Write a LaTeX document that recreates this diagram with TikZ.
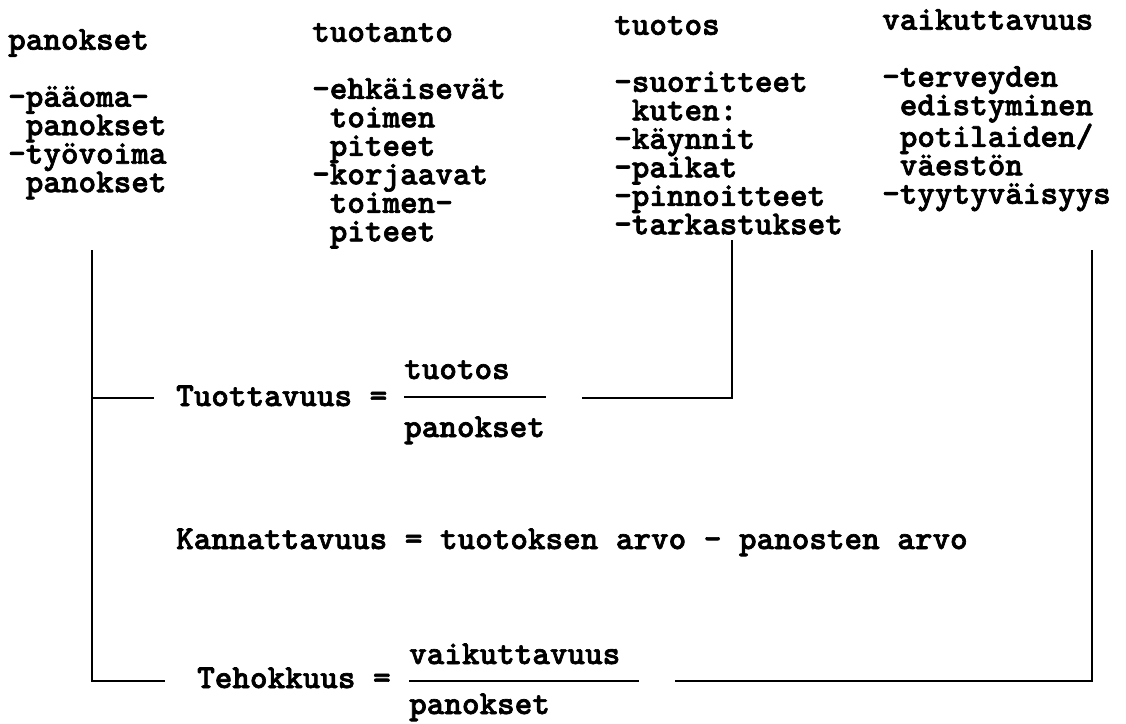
\documentclass[tikz,border=0pt]{standalone}
\usepackage{fontspec}
\usepackage{tikz}
\usetikzlibrary{calc, positioning}
\newfontfamily\typewriter{lmmonolt10-bold.otf}[FakeBold = 2]
\tikzset{
	txt/.style = {font = \typewriter\fontsize{33.5}{28.5}\selectfont, inner sep = 0pt},
	col/.style = {txt, align = left, anchor = north west},
	rule/.style = {line width = 2pt},
}

\begin{document}
\begin{tikzpicture}[x = 1pt, y = -1pt]
		\useasboundingbox (0, 0) rectangle (1126, 723);

		% the four columns
		\node [col] (panokset) at (8, 29) {panokset\\[28.5pt]-pääoma-\\\hphantom{-}panokset\\-työvoima\\\hphantom{-}panokset};
		\node [col] (tuotanto) at (312, 23) {tuotanto\\[28.5pt]-ehkäisevät\\\hphantom{-}toimen\\\hphantom{-}piteet\\-korjaavat\\\hphantom{-}toimen-\\\hphantom{-}piteet};
		\node [col] (tuotos) at (614, 16) {tuotos\\[28.5pt]-suoritteet\\\hphantom{-}kuten:\\-käynnit\\-paikat\\-pinnoitteet\\-tarkastukset};
		\node [col] (vaikuttavuus) at (882, 9) {vaikuttavuus\\[28.5pt]-terveyden\\\hphantom{-}edistyminen\\\hphantom{-}potilaiden/\\\hphantom{-}väestön\\-tyytyväisyys};

		% formulas
		\node [txt, anchor = base west] (tuott) at (176, 406) {Tuottavuus =};
		\node [txt, anchor = base west] (tuottNum) at (404, 379) {tuotos};
		\node [txt, anchor = base west] (tuottDen) at (404, 437) {panokset};
		\node [txt, anchor = base west] (kann) at (176, 549) {Kannattavuus = tuotoksen arvo - panosten arvo};
		\node [txt, anchor = base west] (teho) at (197, 688) {Tehokkuus =};
		\node [txt, anchor = base west] (tehoNum) at (409, 664) {vaikuttavuus};
		\node [txt, anchor = base west] (tehoDen) at (409, 714) {panokset};

		\coordinate (panoFoot) at (92, 250);
		\coordinate (tuotosFoot) at (732, 240);
		\coordinate (vaikFoot) at (1092, 250);
		\coordinate (tuottLeft) at (154, 398);
		\coordinate (tuottRight) at (582, 398);
		\coordinate (tuottBarL) at (404, 397);
		\coordinate (tuottBarR) at (546, 397);
		\coordinate (tehoLeft) at (165, 681);
		\coordinate (tehoRight) at (675, 681);
		\coordinate (tehoBarL) at (409, 681);
		\coordinate (tehoBarR) at (639, 681);

		\draw [rule] (tuottBarL) -- (tuottBarR);
		\draw [rule] (tehoBarL) -- (tehoBarR);
		\draw [rule] (panoFoot) |- (tehoLeft);
		\draw [rule] (panoFoot |- tuottLeft) -- (tuottLeft);
		\draw [rule] (tuotosFoot) |- (tuottRight);
		\draw [rule] (vaikFoot) |- (tehoRight);
	\end{tikzpicture}
\end{document}
